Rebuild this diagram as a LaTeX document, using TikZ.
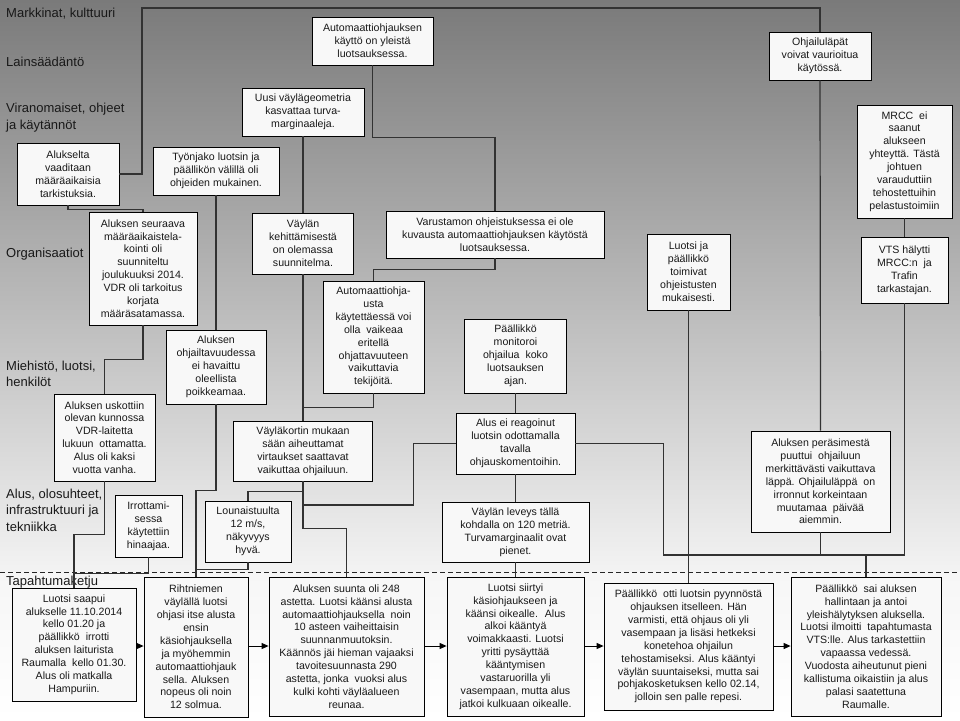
\documentclass[tikz,border=0pt]{standalone}
\usepackage{fontspec}
\setmainfont{Liberation Sans}
\usetikzlibrary{arrows.meta}
\definecolor{boxfill}{RGB}{248,248,248}
\definecolor{linec}{RGB}{50,50,50}
\definecolor{textc}{RGB}{25,25,25}
\definecolor{bgtop}{RGB}{122,122,122}
\definecolor{bgbot}{RGB}{243,243,243}
\definecolor{bgevt}{RGB}{246,246,246}
\begin{document}
\begin{tikzpicture}[x=1pt,y=-1pt,
  box/.style={draw=black, line width=0.8pt, fill=boxfill, inner sep=0pt, align=center,
    font=\fontsize{10.6}{12.9}\selectfont, text=textc},
  lbl/.style={anchor=west, inner sep=0pt, align=left, text=textc,
    font=\fontsize{13}{16.5}\selectfont},
  conn/.style={draw=linec, line width=1.2pt},
  arr/.style={draw=black, line width=1pt, -{Triangle[length=7pt,width=6pt]}},
  sep/.style={draw=black!85, line width=0.9pt, dash pattern=on 5pt off 3pt}]
\useasboundingbox (0,0) rectangle (960,720);
\shade[top color=bgtop,bottom color=bgbot] (0,0) rectangle (960,572);
\shade[top color=bgevt,bottom color=white] (0,572) rectangle (960,720);
\draw[sep] (0,572) -- (960,572);

% category labels
\node[lbl] (l1) at (6,14) {Markkinat, kulttuuri};
\node[lbl] (l2) at (6,62) {Lainsäädäntö};
\node[lbl] (l3) at (6,117.5) {Viranomaiset, ohjeet\\ja käytännöt};
\node[lbl] (l4) at (6,254) {Organisaatiot};
\node[lbl] (l5) at (6,374) {Miehistö, luotsi,\\henkilöt};
\node[lbl] (l6) at (6,510) {Alus, olosuhteet,\\infrastruktuuri ja\\tekniikka};
\node[lbl] (l7) at (6,582) {Tapahtumaketju};

% factor boxes
\node[box, minimum width=102pt, minimum height=62pt] (alukselta) at (68,174) {Alukselta\\vaaditaan\\määräaikaisia\\tarkistuksia.};
\node[box, minimum width=126pt, minimum height=48pt] (tyonjako) at (216,171) {Työnjako luotsin ja\\päällikön välillä oli\\ohjeiden mukainen.};
\node[box, minimum width=122pt, minimum height=48pt] (uusi) at (303,112) {Uusi väylägeometria\\kasvattaa turva-\\marginaaleja.};
\node[box, minimum width=121pt, minimum height=48pt] (autokaytto) at (372.5,41) {Automaattiohjauksen\\käyttö on yleistä\\luotsauksessa.};
\node[box, minimum width=102pt, minimum height=48pt] (ohjailulapat) at (820,56) {Ohjailuläpät\\voivat vaurioitua\\käytössä.};
\node[box, minimum width=95pt, minimum height=113pt] (mrcc) at (904.5,161.5) {MRCC~ ei\\saanut\\alukseen\\yhteyttä. Tästä\\johtuen\\varauduttiin\\tehostettuihin\\pelastustoimiin};
\node[box, minimum width=108pt, minimum height=113pt] (seuraava) at (143,268.5) {Aluksen seuraava\\määräaikaistela-\\kointi oli\\suunniteltu\\joulukuuksi 2014.\\VDR oli tarkoitus\\korjata\\määräsatamassa.};
\node[box, minimum width=101pt, minimum height=61pt] (kehitt) at (303,243.5) {Väylän\\kehittämisestä\\on olemassa\\suunnitelma.};
\node[box, minimum width=218pt, minimum height=47pt] (varustamo) at (495,234.5) {Varustamon ohjeistuksessa ei ole\\kuvausta automaattiohjauksen käytöstä\\luotsauksessa.};
\node[box, minimum width=83pt, minimum height=76pt] (luotsipaal) at (688.5,272) {Luotsi ja\\päällikkö\\toimivat\\ohjeistusten\\mukaisesti.};
\node[box, minimum width=87pt, minimum height=66pt] (vts) at (904.5,270) {VTS hälytti\\MRCC:n~ ja\\Trafin\\tarkastajan.};
\node[box, minimum width=101pt, minimum height=112pt] (autoohj) at (373.5,337) {Automaattiohja-\\usta\\käytettäessä voi\\olla~ vaikeaa\\eritellä\\ohjattavuuteen\\vaikuttavia\\tekijöitä.};
\node[box, minimum width=102pt, minimum height=74pt] (monitoroi) at (515.5,356) {Päällikkö\\monitoroi\\ohjailua~ koko\\luotsauksen\\ajan.};
\node[box, minimum width=100pt, minimum height=74pt] (ohjailtav) at (216,367) {Aluksen\\ohjailtavuudessa\\ei havaittu\\oleellista\\poikkeamaa.};
\node[box, minimum width=101pt, minimum height=87pt] (uskottiin) at (104.5,437.5) {Aluksen uskottiin\\olevan kunnossa\\VDR-laitetta\\lukuun~ ottamatta.\\Alus oli kaksi\\vuotta vanha.};
\node[box, minimum width=139pt, minimum height=60pt] (vaylakortti) at (303,451) {Väyläkortin mukaan\\sään aiheuttamat\\virtaukset saattavat\\vaikuttaa ohjailuun.};
\node[box, minimum width=119pt, minimum height=61pt] (reagoinut) at (515.5,443.5) {Alus ei reagoinut\\luotsin odottamalla\\tavalla\\ohjauskomentoihin.};
\node[box, minimum width=139pt, minimum height=101pt] (perasin) at (820.5,481.5) {Aluksen peräsimestä\\puuttui~ ohjailuun\\merkittävästi vaikuttava\\läppä. Ohjailuläppä~ on\\irronnut korkeintaan\\muutamaa~ päivää\\aiemmin.};
\node[box, minimum width=67pt, minimum height=62pt] (irrottam) at (148.5,526) {Irrottami-\\sessa\\käytettiin\\hinaajaa.};
\node[box, minimum width=86pt, minimum height=61pt] (lounais) at (248,531.5) {Lounaistuulta\\12 m/s,\\näkyvyys\\hyvä.};
\node[box, minimum width=147pt, minimum height=60pt] (leveys) at (515.5,532) {Väylän leveys tällä\\kohdalla on 120 metriä.\\Turvamarginaalit ovat\\pienet.};

% event chain
\node[box, minimum width=124pt, minimum height=113pt] (e1) at (74,644.5) {Luotsi saapui\\alukselle 11.10.2014\\kello 01.20 ja\\päällikkö~ irrotti\\aluksen laiturista\\Raumalla~ kello 01.30.\\Alus oli matkalla\\Hampuriin.};
\node[box, minimum width=104pt, minimum height=140pt] (e2) at (196,647) {Rihtniemen\\väylällä luotsi\\ohjasi itse alusta\\ensin\\käsiohjauksella\\ja myöhemmin\\automaattiohjauk\\sella. Aluksen\\nopeus oli noin\\12 solmua.};
\node[box, minimum width=155pt, minimum height=139pt] (e3) at (346.5,646.5) {Aluksen suunta oli 248\\astetta. Luotsi käänsi alusta\\automaattiohjauksella~ noin\\10 asteen vaiheittaisin\\suunnanmuutoksin.\\Käännös jäi hieman vajaaksi\\tavoitesuunnasta 290\\astetta, jonka~ vuoksi alus\\kulki kohti väyläalueen\\reunaa.};
\node[box, minimum width=137pt, minimum height=139pt] (e4) at (515.5,646.5) {Luotsi siirtyi\\käsiohjaukseen ja\\käänsi oikealle.~ Alus\\alkoi kääntyä\\voimakkaasti. Luotsi\\yritti pysäyttää\\kääntymisen\\vastaruorilla yli\\vasempaan, mutta alus\\jatkoi kulkuaan oikealle.};
\node[box, minimum width=169pt, minimum height=127pt] (e5) at (688.5,646.5) {Päällikkö~ otti luotsin pyynnöstä\\ohjauksen itselleen. Hän\\varmisti, että ohjaus oli yli\\vasempaan ja lisäsi hetkeksi\\konetehoa ohjailun\\tehostamiseksi. Alus kääntyi\\väylän suuntaiseksi, mutta sai\\pohjakosketuksen kello 02.14,\\jolloin sen palle repesi.};
\node[box, minimum width=150pt, minimum height=139pt] (e6) at (866,646.5) {Päällikkö~ sai aluksen\\hallintaan ja antoi\\yleishälytyksen aluksella.\\Luotsi ilmoitti~ tapahtumasta\\VTS:lle. Alus tarkastettiin\\vapaassa vedessä.\\Vuodosta aiheutunut pieni\\kallistuma oikaistiin ja alus\\palasi saatettuna\\Raumalle.};

% connectors
\draw[conn] (alukselta.east) -| (142,8) -| (ohjailulapat.north);
\draw[conn] (alukselta.south) -- ++(0,4) -| (seuraava.north);
\draw[conn] (seuraava.south) -- ++(0,34) -| (uskottiin.north);
\draw[conn] (uskottiin.south) -- ++(0,53) -| (e1.north);
\draw[conn] (irrottam.south) -- ++(0,16) -| (e1.north);
\draw[conn] (tyonjako.south) -- (ohjailtav.north);
\draw[conn] (ohjailtav.south) -- ++(0,86) -| (e2.north);
\draw[conn] (uusi.south) -- (kehitt.north);
\draw[conn] (kehitt.south) -- (vaylakortti.north);
\draw[conn] (vaylakortti.south) -- ++(0,47) -| (e3.north);
\draw[conn] (lounais.north) -- ++(0,-9) -| (vaylakortti.south);
\draw[conn] (lounais.south) -- ++(0,7) -| (e2.north);
\draw[conn] (autokaytto.south) -- ++(0,72) -| (varustamo.north);
\draw[conn] (varustamo.south) -- ++(0,11) -| (autoohj.north);
\draw[conn] (autoohj.south) -- ++(0,14) -| (vaylakortti.north);
\draw[conn] (reagoinut.west) -- ++(-42,0) -- ++(0,61.5) -| (vaylakortti.south);
\draw[conn] (monitoroi.south) -- (reagoinut.north);
\draw[conn] (reagoinut.south) -- (leveys.north);
\draw[conn] (leveys.south) -- (e4.north);
\draw[conn] (ohjailulapat.south) -- (perasin.north);
\draw[conn] (mrcc.south) -- (vts.north);
\draw[conn] (luotsipaal.south) -- (e5.north);
\coordinate (jn) at (866,555);
\draw[conn] (reagoinut.east) -- ++(88,0) |- (jn);
\draw[conn] (vts.south) |- (jn);
\draw[conn] (perasin.south) -- (perasin.south |- jn);
\draw[conn] (jn) -- (e6.north);

% event arrows
\draw[arr] (e1.east |- 0,646) -- (e2.west |- 0,646);
\draw[arr] (e2.east |- 0,646) -- (e3.west |- 0,646);
\draw[arr] (e3.east |- 0,646) -- (e4.west |- 0,646);
\draw[arr] (e4.east |- 0,646) -- (e5.west |- 0,646);
\draw[arr] (e5.east |- 0,646) -- (e6.west |- 0,646);
\end{tikzpicture}
\end{document}
